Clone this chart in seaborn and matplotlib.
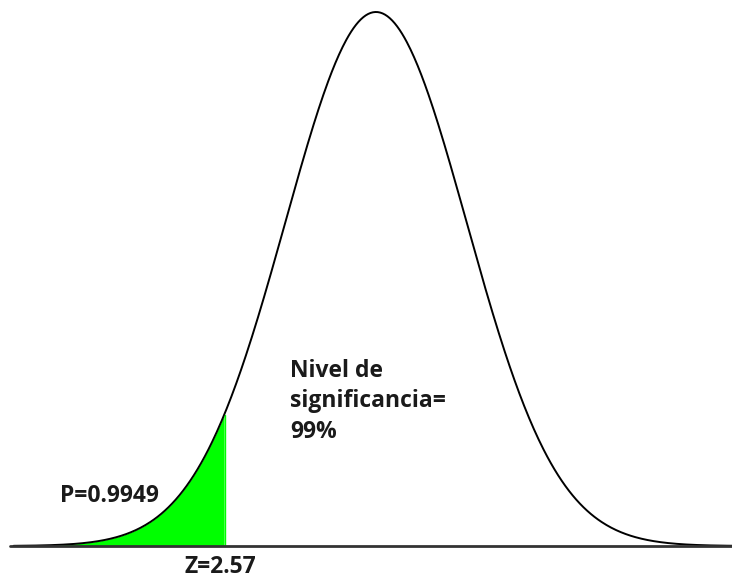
import numpy as np
import pandas as pd
import matplotlib
matplotlib.use("Agg")
import matplotlib.pyplot as plt
import seaborn as sns

# Normal curve parameters (drawing units, sigma = 1)
mu = 0.0
sigma = 1.0
x_range = [-4.0, 4.0]
cut_x = -1.667           # where the green tail ends in the drawing
p_label = "P=0.9949"
z_label = "Z=2.57"
sig_lines = ["Nivel de", "significancia=", "99%"]

x = np.linspace(x_range[0], x_range[1], 600)
y = np.exp(-0.5 * ((x - mu) / sigma) ** 2) / (sigma * np.sqrt(2 * np.pi))
df = pd.DataFrame({"x": x, "y": y})

sns.set_style("white")
plt.rcParams['font.family'] = ['Open Sans', 'DejaVu Sans']

fig = plt.figure(figsize=(7.32, 5.81), dpi=100)
ax = fig.add_axes([0, 0, 1, 1])

sns.lineplot(data=df, x="x", y="y", color="black", linewidth=1.4, ax=ax)

tail = df[df["x"] <= cut_x]
ax.fill_between(tail["x"], 0, tail["y"], color="#00ff00", linewidth=0)
ax.plot([cut_x, cut_x], [0, tail["y"].iloc[-1]], color="#00ff00", linewidth=1)

# baseline
ax.axhline(0, xmin=10 / 732, xmax=1, color="#333333", linewidth=2)

ax.set_xlim(-4.15, 3.93)
ax.set_ylim(-0.02615, 0.4079)
ax.axis("off")

txt = dict(fontsize=16.5, fontweight="bold", color="#1a1a1a", va="baseline", ha="left")
ax.text(-3.488, 0.0329, p_label, **txt)
ax.text(-2.108, -0.0202, z_label, **txt)
for yy, line in zip([0.1263, 0.1038, 0.0807], sig_lines):
    ax.text(-0.949, yy, line, **txt)

fig.savefig("out.png", dpi=100)
